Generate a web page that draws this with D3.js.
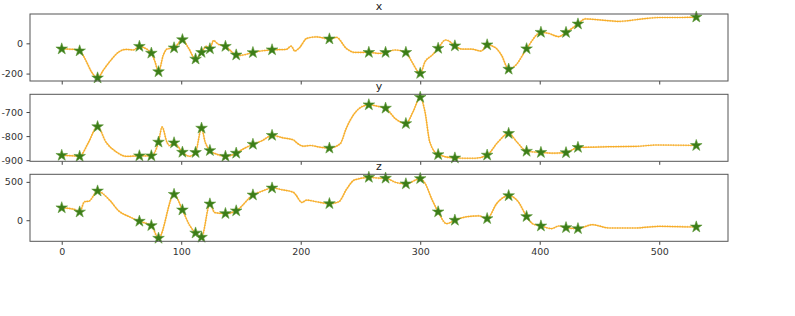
<!DOCTYPE html>
<html>
<head>
<meta charset="utf-8">
<script src="https://cdn.jsdelivr.net/npm/d3@7"></script>
<style>
  body { margin: 0; background: #fff; }
  svg { display: block; font-family: "DejaVu Sans", sans-serif; }
</style>
</head>
<body>
<svg id="chart" width="795" height="316"></svg>
<script>
// keyframes (stars), shared frame numbers
var keyFrames = [0, 15, 30, 65, 75, 81, 94, 101, 112, 117, 124, 137, 146, 160, 176, 224, 257, 271, 288, 300, 315, 329, 356, 374, 389, 401, 422, 432, 531];
var keyX = [-37, -50, -229, -20, -65, -188, -30, 24, -104, -60, -36, -20, -77, -61, -43, 29, -60, -60, -60, -199, -33, -17, -10, -171, -36, 73, 72, 128, 174];
var keyY = [-880, -884, -761, -882, -882, -825, -828, -867, -868, -767, -860, -884, -871, -834, -797, -850, -670, -684, -748, -639, -877, -891, -879, -789, -863, -868, -869, -847, -839];
var keyZ = [162, 107, 381, -13, -70, -235, 337, 134, -167, -222, 212, 87, 122, 329, 420, 216, 559, 548, 474, 543, 109, 0, 21, 320, 48, -75, -97, -110, -88];

// the dense curves
var xFrames = [0, 10, 15, 20, 25, 30, 35, 40, 48, 54, 60, 65, 71, 75, 78, 81, 85, 88, 94, 101, 106, 112, 117, 121, 124, 127, 131, 137, 146, 149, 160, 168, 176, 188, 192, 195, 199, 205, 213, 224, 230, 238, 245, 257, 266, 271, 279, 288, 293, 300, 304, 310, 315, 321, 324, 329, 335, 343, 351, 356, 363, 368, 374, 380, 389, 401, 407, 416, 422, 432, 438, 452, 466, 486, 500, 514, 531];
var xValues = [-37, -40, -50, -110, -190, -229, -175, -122, -55, -40, -44, -20, -38, -65, -120, -188, -78, -38, -30, 24, -30, -104, -60, -20, -36, 18, -6, -20, -77, -80, -61, -49, -43, -40, -18, -51, -29, 33, 43, 29, 40, -33, -60, -60, -67, -60, -44, -60, -122, -199, -122, -78, -33, 22, 16, -17, -38, -38, -51, -10, -29, -78, -171, -144, -36, 73, 67, 44, 72, 128, 162, 154, 145, 162, 171, 171, 174];

var yFrames = [0, 10, 15, 22, 30, 37, 46, 54, 65, 75, 81, 84, 88, 90, 94, 101, 107, 112, 117, 120, 124, 129, 137, 146, 152, 160, 168, 176, 185, 194, 196, 202, 208, 216, 224, 233, 238, 245, 251, 257, 266, 271, 279, 288, 294, 300, 304, 308, 315, 329, 346, 356, 365, 374, 381, 389, 401, 413, 422, 432, 458, 480, 497, 531];
var yValues = [-880, -882, -884, -830, -761, -825, -867, -884, -882, -882, -825, -762, -825, -839, -828, -867, -884, -868, -767, -825, -860, -874, -884, -871, -853, -834, -818, -797, -807, -816, -825, -842, -839, -846, -850, -832, -769, -706, -678, -670, -678, -684, -727, -748, -699, -639, -699, -825, -877, -891, -892, -879, -825, -789, -825, -863, -868, -871, -869, -847, -844, -843, -837, -839];

var zFrames = [0, 10, 15, 19, 23, 30, 40, 48, 57, 65, 75, 81, 94, 101, 107, 112, 117, 124, 128, 137, 146, 160, 168, 176, 185, 194, 196, 201, 205, 213, 224, 232, 238, 245, 257, 266, 271, 279, 288, 300, 304, 310, 315, 322, 329, 338, 349, 356, 364, 374, 382, 389, 394, 401, 410, 416, 422, 432, 444, 458, 480, 500, 531];
var zValues = [162, 145, 107, 241, 250, 381, 263, 118, 43, -13, -70, -235, 337, 134, -66, -167, -222, 212, 100, 87, 122, 329, 381, 420, 395, 363, 329, 232, 263, 241, 216, 241, 395, 526, 559, 548, 548, 495, 474, 543, 482, 263, 109, -45, 0, 43, 57, 21, 218, 320, 241, 48, -45, -75, -110, -75, -97, -110, -58, -101, -101, -79, -88];

var xTicks = [0, 100, 200, 300, 400, 500];

var panels = [
  {title: "x", frames: xFrames, values: xValues, keys: keyX, ticks: [-200, 0]},
  {title: "y", frames: yFrames, values: yValues, keys: keyY, ticks: [-900, -800, -700]},
  {title: "z", frames: zFrames, values: zValues, keys: keyZ, ticks: [0, 500]}
];

var margin = {left: 30, right: 67};
var width = 795 - margin.left - margin.right;
var panelTops = [14, 94.3, 174.3];
var panelHeight = 67;

var svg = d3.select("#chart");

// plain hyphen for negatives, like the original
var fmt = function(d) { return String(d); };

// matplotlib-style 5% margins on the x range
var xMin = 0, xMax = 531, xPad = (xMax - xMin) * 0.05;
var x = d3.scaleLinear()
  .domain([xMin - xPad, xMax + xPad])
  .range([0, width]);

var line = function(y) {
  return d3.line()
    .x(function(d) { return x(d[0]); })
    .y(function(d) { return y(d[1]); })
    .curve(d3.curveMonotoneX);
};

var star = d3.symbol().type(d3.symbolStar).size(42);

panels.forEach(function(p, i) {
  var lo = d3.min(p.values), hi = d3.max(p.values), pad = (hi - lo) * 0.05;
  var y = d3.scaleLinear()
    .domain([lo - pad, hi + pad])
    .range([panelHeight, 0]);

  var g = svg.append("g")
    .attr("transform", "translate(" + margin.left + "," + panelTops[i] + ")");

  var pts = p.frames.map(function(f, k) { return [f, p.values[k]]; });

  g.append("path")
    .datum(pts)
    .attr("fill", "none")
    .attr("stroke", "#f9b233")
    .attr("stroke-width", 1.2)
    .attr("d", line(y));

  g.append("path")
    .datum(pts)
    .attr("fill", "none")
    .attr("stroke", "#f2a51a")
    .attr("stroke-width", 2)
    .attr("stroke-dasharray", "1.2,1.3")
    .attr("opacity", 0.55)
    .attr("d", line(y));

  g.selectAll(".star")
    .data(keyFrames.map(function(f, k) { return [f, p.keys[k]]; }))
    .enter().append("path")
      .attr("class", "star")
      .attr("transform", function(d) { return "translate(" + x(d[0]) + "," + y(d[1]) + ")"; })
      .attr("d", star)
      .attr("fill", "#3c7d18")
      .attr("stroke", "#5f9a3a")
      .attr("stroke-width", 0.6);

  var yAxis = g.append("g")
    .call(d3.axisLeft(y).tickValues(p.ticks).tickSize(3.5).tickPadding(3.5).tickFormat(fmt));
  yAxis.select(".domain").remove();
  yAxis.selectAll("text").attr("font-size", 9.5).attr("fill", "#333").attr("font-family", "DejaVu Sans");
  yAxis.selectAll("line").attr("stroke", "#444");

  var xAxis = g.append("g")
    .attr("transform", "translate(0," + panelHeight + ")")
    .call(d3.axisBottom(x).tickValues(xTicks).tickSize(3.5).tickPadding(3.5)
      .tickFormat(i === 2 ? fmt : ""));
  xAxis.select(".domain").remove();
  xAxis.selectAll("text").attr("font-size", 9.5).attr("fill", "#333").attr("font-family", "DejaVu Sans");
  xAxis.selectAll("line").attr("stroke", "#444");

  g.append("rect")
    .attr("width", width)
    .attr("height", panelHeight)
    .attr("fill", "none")
    .attr("stroke", "#555")
    .attr("stroke-width", 1);

  g.append("text")
    .attr("x", width / 2)
    .attr("y", -4)
    .attr("text-anchor", "middle")
    .attr("font-size", 11)
    .attr("fill", "#222")
    .text(p.title);
});
</script>
</body>
</html>
